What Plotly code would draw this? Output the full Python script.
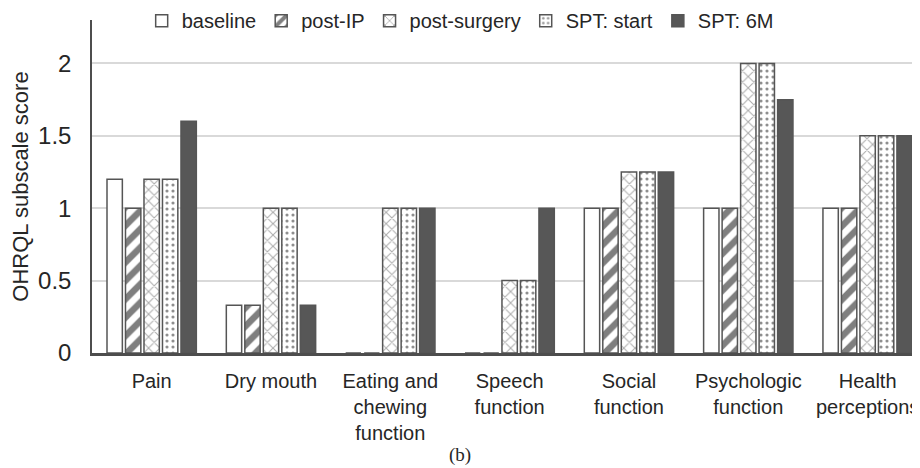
import plotly.graph_objects as go

categories = ["Pain", "Dry mouth", "Eating and<br>chewing<br>function", "Speech<br>function",
              "Social<br>function", "Psychologic<br>function", "Health<br>perceptions"]
series_names = ["baseline", "post-IP", "post-surgery", "SPT: start", "SPT: 6M"]
baseline = [1.2, 0.33, 0, 0, 1.0, 1.0, 1.0]
post_ip = [1.0, 0.33, 0, 0, 1.0, 1.0, 1.0]
post_surgery = [1.2, 1.0, 1.0, 0.5, 1.25, 2.0, 1.5]
spt_start = [1.2, 1.0, 1.0, 0.5, 1.25, 2.0, 1.5]
spt_6m = [1.6, 0.33, 1.0, 1.0, 1.25, 1.75, 1.5]
y_ticks = [0, 0.5, 1, 1.5, 2]
y_tick_labels = ["0", "0.5", "1", "1.5", "2"]

FONT = "Liberation Sans, Arial, sans-serif"
TXT = "#262626"
OUT = "#555555"

fig = go.Figure()
styles = [
    dict(color="white", pattern=dict(shape="")),
    dict(color="white", pattern=dict(shape="/", fgcolor="#000000", bgcolor="white", size=13, solidity=0.5)),
    dict(color="white", pattern=dict(shape="x", fgcolor="#5a5a5a", bgcolor="white", size=8, solidity=0.25)),
    dict(color="white", pattern=dict(shape=".", fgcolor="#202020", bgcolor="white", size=6, solidity=0.22)),
    dict(color="#575757", pattern=dict(shape="")),
]
for name, vals, st in zip(series_names, [baseline, post_ip, post_surgery, spt_start, spt_6m], styles):
    fig.add_bar(
        x=list(range(len(categories))), y=vals, name=name,
        marker=dict(color=st["color"], pattern=st["pattern"],
                    line=dict(color=OUT, width=1.5)),
    )

# page body has an 8px margin: figure is 912x460 so plot area lands at x 92..920, y 20..353
fig.update_layout(
    width=912, height=460,
    margin=dict(l=84, r=0, t=12, b=115, autoexpand=False),
    paper_bgcolor="white", plot_bgcolor="white",
    barmode="group", bargap=0.225, bargroupgap=0.17,
    font=dict(family=FONT, size=20, color=TXT),
    legend=dict(orientation="h", x=0.06, xanchor="left", y=0.998, yanchor="middle",
                font=dict(family=FONT, size=20, color=TXT), bgcolor="rgba(0,0,0,0)",
                itemclick=False, traceorder="normal"),
    showlegend=True,
)
fig.update_xaxes(
    tickmode="array", tickvals=list(range(len(categories))), ticktext=categories,
    range=[-0.5, 6.439], showgrid=False, showline=True, linecolor="#4d4d4d", linewidth=2.5,
    ticks="", ticklabelstandoff=8, tickfont=dict(family=FONT, size=20, color=TXT), zeroline=False,
)
fig.update_yaxes(
    range=[0, 2.3], tickmode="array", tickvals=y_ticks, ticktext=y_tick_labels,
    showgrid=True, gridcolor="#d9d9d9", gridwidth=1.5, zeroline=False,
    showline=True, linecolor="#4d4d4d", linewidth=1.5, ticks="", ticklabelstandoff=14,
    tickfont=dict(family=FONT, size=24, color=TXT),
    title=dict(text="OHRQL subscale score", font=dict(family=FONT, size=22, color=TXT), standoff=7),
)
fig.add_annotation(text="(b)", xref="paper", yref="paper", x=0.4444, y=-0.306,
                   xanchor="center", yanchor="middle", showarrow=False,
                   font=dict(family="Liberation Serif, DejaVu Serif, serif", size=19, color=TXT))

fig.write_html("out.html")
